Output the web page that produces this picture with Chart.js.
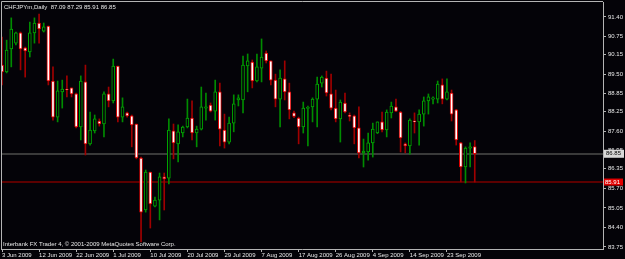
<!DOCTYPE html>
<html>
<head>
<meta charset="utf-8">
<script src="https://cdn.jsdelivr.net/npm/chart.js@4/dist/chart.umd.min.js"></script>
<style>
  html, body { margin: 0; padding: 0; background: #040308; }
  #wrap { width: 625px; height: 259px; }
</style>
</head>
<body>
<div id="wrap"><canvas id="chart" width="625" height="259"></canvas></div>
<script>
// CHFJPYm daily candles, bar 0 = 3 Jun 2009
const opens = [
    89.80, 89.57, 90.34, 90.53, 90.87, 90.37, 90.24, 90.87, 91.20, 90.93,
    91.10, 89.27, 88.07, 88.91, 89.00, 89.04, 88.84, 87.74, 89.24, 87.18,
    87.61, 87.94, 87.84, 88.84, 88.61, 89.77, 88.07, 88.21, 88.11, 87.84,
    86.71, 84.98, 86.24, 85.11, 85.31, 86.08, 86.04, 87.61, 87.18, 87.54,
    87.74, 88.04, 87.54, 87.67, 88.37, 88.47, 88.27, 88.91, 87.64, 87.24,
    87.87, 88.64, 88.64, 89.77, 89.90, 89.27, 89.70, 90.20, 89.94, 89.30,
    88.67, 89.34, 88.91, 88.21, 88.04, 87.74, 88.36, 88.41, 88.67, 89.20,
    89.37, 88.84, 88.37, 88.01, 88.54, 88.13, 88.11, 87.71, 86.88, 86.91,
    87.21, 87.54, 87.91, 87.64, 88.21, 88.41, 88.24, 87.18, 87.11, 87.94,
    87.91, 88.17, 88.61, 88.67, 88.67, 89.14, 88.67, 88.87, 88.31, 87.21,
    86.41, 87.04, 87.09
];
const highs = [
    90.73, 90.63, 91.37, 90.90, 90.90, 90.40, 91.23, 91.37, 91.50, 91.20,
    91.10, 89.74, 89.27, 89.30, 89.44, 89.04, 88.87, 89.44, 89.80, 88.24,
    88.14, 88.01, 88.91, 89.07, 90.00, 89.77, 88.71, 88.24, 88.14, 87.84,
    86.74, 86.31, 86.24, 85.41, 86.21, 86.21, 88.01, 87.84, 87.81, 87.77,
    88.67, 88.61, 87.77, 89.07, 88.87, 88.54, 89.30, 89.20, 88.17, 88.07,
    88.81, 88.81, 90.10, 90.17, 89.97, 90.17, 90.67, 90.27, 89.94, 89.50,
    89.64, 89.94, 89.20, 88.27, 88.07, 88.57, 88.44, 88.71, 89.40, 89.44,
    89.60, 89.50, 88.97, 88.64, 88.87, 88.21, 88.14, 88.41, 87.34, 87.54,
    87.87, 87.91, 88.24, 88.31, 88.57, 88.67, 88.26, 87.21, 88.01, 88.21,
    88.31, 88.74, 88.84, 88.74, 89.27, 89.34, 89.34, 88.97, 88.33, 87.23,
    87.08, 87.21, 87.29
];
const lows = [
    89.14, 89.54, 89.74, 90.47, 89.64, 89.40, 90.07, 90.53, 90.53, 90.90,
    89.14, 87.97, 87.91, 88.37, 88.74, 88.74, 87.71, 87.31, 86.81, 87.14,
    87.54, 87.77, 87.41, 88.41, 88.54, 87.91, 87.91, 88.07, 87.08, 86.68,
    83.92, 84.91, 84.38, 85.08, 84.65, 84.98, 85.85, 86.68, 86.58, 87.41,
    87.71, 87.31, 87.08, 87.64, 87.97, 88.24, 87.97, 87.11, 87.04, 87.18,
    87.58, 88.44, 88.21, 88.91, 89.04, 89.24, 89.24, 89.87, 89.14, 88.41,
    87.74, 88.64, 88.01, 88.05, 87.18, 87.54, 87.11, 87.91, 87.74, 89.07,
    88.77, 88.31, 87.91, 87.24, 88.21, 87.94, 87.18, 86.71, 86.41, 86.64,
    86.74, 87.52, 87.58, 87.41, 88.04, 88.25, 86.91, 86.88, 86.84, 87.54,
    87.14, 87.77, 88.17, 88.51, 88.54, 88.51, 88.64, 87.94, 87.14, 85.91,
    85.88, 86.41, 85.91
];
const closes = [
    89.57, 90.30, 91.00, 90.87, 90.34, 90.27, 90.87, 91.20, 91.00, 91.07,
    89.27, 88.07, 88.94, 89.00, 88.97, 88.84, 87.74, 89.27, 87.18, 87.64,
    88.01, 87.84, 88.84, 88.61, 89.77, 88.07, 88.41, 88.11, 87.81, 86.71,
    84.91, 86.24, 85.18, 85.31, 86.08, 86.01, 87.64, 87.21, 87.58, 87.74,
    88.04, 87.54, 87.67, 88.41, 88.41, 88.27, 88.91, 87.67, 87.24, 87.87,
    88.51, 88.71, 89.80, 89.94, 89.27, 89.74, 90.07, 89.94, 89.30, 88.67,
    89.37, 88.91, 88.31, 88.09, 87.74, 88.37, 88.39, 88.67, 89.17, 89.40,
    88.87, 88.37, 88.01, 88.57, 88.24, 88.09, 87.71, 86.88, 86.94, 87.21,
    87.67, 87.91, 87.64, 88.24, 88.44, 88.27, 87.38, 87.11, 87.97, 87.91,
    88.17, 88.61, 88.74, 88.71, 89.17, 88.67, 88.91, 88.17, 87.31, 86.41,
    87.04, 87.08, 86.85
];

// time axis labels, one every 8 bars
const tickBars = [0, 8, 16, 24, 32, 40, 48, 56, 64, 72, 80, 88, 96];
const tickLabels = ['3 Jun 2009', '12 Jun 2009', '22 Jun 2009', '1 Jul 2009', '10 Jul 2009',
    '20 Jul 2009', '29 Jul 2009', '7 Aug 2009', '17 Aug 2009', '26 Aug 2009',
    '4 Sep 2009', '14 Sep 2009', '23 Sep 2009'];

const priceTicks = [91.40, 90.75, 90.15, 89.50, 88.85, 88.25, 87.60, 86.95, 86.35, 85.70, 85.05, 84.40, 83.75];

const bidPrice = 86.85;
const redLevel = 85.91;
const title = 'CHFJPYm,Daily  87.09 87.29 85.91 86.85';
const footer = 'Interbank FX Trader 4, \u00a9 2001-2009 MetaQuotes Software Corp.';

const BG = '#040308';
const FRAME = '#b4b4b4';
const TXT = '#e8e8e8';
const FONT = '"Liberation Sans", Arial, sans-serif';

const isUp = opens.map((o, i) => closes[i] >= o);

const bodies = opens.map((o, i) => ({ x: i, y: [o, closes[i]] }));
const wicks = lows.map((l, i) => ({ x: i, y: [l, highs[i]] }));

const mtPlugin = {
    id: 'mt4',
    beforeDraw(chart) {
        const ctx = chart.ctx;
        ctx.save();
        ctx.fillStyle = BG;
        ctx.fillRect(0, 0, chart.width, chart.height);
        ctx.restore();
    },
    beforeDatasetsDraw(chart) {
        const { ctx, chartArea: a, scales: { y } } = chart;
        ctx.save();
        ctx.lineWidth = 2;
        let py = Math.round(y.getPixelForValue(bidPrice));
        ctx.strokeStyle = '#3a3a3a';
        ctx.beginPath(); ctx.moveTo(a.left, py); ctx.lineTo(a.right, py); ctx.stroke();
        py = Math.round(y.getPixelForValue(redLevel));
        ctx.strokeStyle = '#5c0000';
        ctx.beginPath(); ctx.moveTo(a.left, py); ctx.lineTo(a.right, py); ctx.stroke();
        ctx.restore();
    },
    afterDraw(chart) {
        const { ctx, chartArea: a, scales: { y } } = chart;
        ctx.save();
        // frame top / left
        ctx.strokeStyle = FRAME;
        ctx.lineWidth = 1;
        ctx.beginPath();
        ctx.moveTo(a.left + 0.5, a.bottom);
        ctx.lineTo(a.left + 0.5, a.top - 0.5);
        ctx.lineTo(a.right, a.top - 0.5);
        ctx.stroke();

        ctx.font = '6px ' + FONT;
        ctx.textBaseline = 'middle';
        ctx.fillStyle = TXT;
        ctx.fillText(title, 4, 7);
        ctx.fillText(footer, 3, 244);

        // price boxes on the axis
        let py = y.getPixelForValue(bidPrice);
        ctx.fillStyle = '#d8d8d8';
        ctx.fillRect(a.right + 1, py - 4, 20, 8);
        ctx.fillStyle = '#000';
        ctx.fillText(bidPrice.toFixed(2), a.right + 3, py);
        py = y.getPixelForValue(redLevel);
        ctx.fillStyle = '#e00000';
        ctx.fillRect(a.right + 1, py - 3.5, 19, 7);
        ctx.fillStyle = '#fff';
        ctx.fillText(redLevel.toFixed(2), a.right + 2, py);
        ctx.restore();
    }
};

new Chart(document.getElementById('chart'), {
    type: 'bar',
    data: {
        datasets: [
            {
                data: bodies,
                barThickness: 3,
                minBarLength: 1,
                borderWidth: 1,
                borderSkipped: false,
                backgroundColor: isUp.map(u => u ? BG : '#ffffff'),
                borderColor: isUp.map(u => u ? '#00a800' : '#e00000'),
            },
            {
                data: wicks,
                barThickness: 1,
                borderWidth: 0,
                backgroundColor: isUp.map(u => u ? '#008c00' : '#a00000'),
            },
        ],
    },
    options: {
        responsive: false,
        animation: false,
        devicePixelRatio: 1,
        layout: { padding: { top: 2, left: 1, right: 0, bottom: 0 } },
        datasets: { bar: { grouped: false } },
        plugins: { legend: { display: false }, tooltip: { enabled: false } },
        scales: {
            x: {
                type: 'linear',
                offset: false,
                min: -0.216,
                max: 129.67,
                grid: { offset: false, drawOnChartArea: false, drawTicks: true, tickLength: 3, color: FRAME },
                border: { color: FRAME },
                afterBuildTicks: (s) => { s.ticks = tickBars.map(v => ({ value: v })); },
                afterFit: (s) => { s.height = 10; s.paddingLeft = 0; s.paddingRight = 0; },
                ticks: {
                    autoSkip: false,
                    maxRotation: 0,
                    align: 'start',
                    padding: 0,
                    color: TXT,
                    font: { size: 6, family: FONT },
                    callback: (v) => {
                        const k = tickBars.indexOf(v);
                        return k >= 0 ? tickLabels[k] : '';
                    },
                },
            },
            y: {
                position: 'right',
                min: 83.683,
                max: 91.898,
                grid: { drawOnChartArea: false, drawTicks: true, tickLength: 3, color: FRAME },
                border: { color: FRAME },
                afterBuildTicks: (s) => { s.ticks = priceTicks.map(v => ({ value: v })); },
                afterFit: (s) => { s.width = 22; s.paddingTop = 0; s.paddingBottom = 0; },
                ticks: {
                    padding: 2,
                    color: TXT,
                    font: { size: 6, family: FONT },
                    callback: (v) => v.toFixed(2),
                },
            },
        },
    },
    plugins: [mtPlugin],
});
</script>
</body>
</html>
